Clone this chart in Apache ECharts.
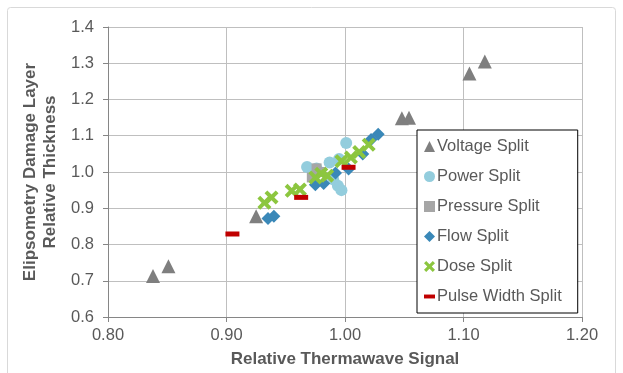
<!DOCTYPE html>
<html>
<head>
<meta charset="utf-8">
<script src="https://cdn.jsdelivr.net/npm/echarts@6/dist/echarts.min.js"></script>
<style>html,body{margin:0;padding:0;background:#fff}#c{width:623px;height:373px}</style>
</head>
<body>
<div id="c"></div>
<script>
const xTicks = [0.80, 0.90, 1.00, 1.10, 1.20];
const yTicks = [0.6, 0.7, 0.8, 0.9, 1.0, 1.1, 1.2, 1.3, 1.4];
const seriesNames = ['Voltage Split', 'Power Split', 'Pressure Split', 'Flow Split', 'Dose Split', 'Pulse Width Split'];
const voltage = [[0.838,0.713],[0.851,0.740],[0.925,0.878],[1.048,1.148],[1.054,1.150],[1.105,1.272],[1.118,1.305]];
const power = [[0.968,1.014],[0.976,1.010],[0.987,1.026],[0.995,1.036],[1.001,1.080],[0.994,0.962],[0.997,0.950],[0.990,0.980]];
const pressure = [[0.976,1.010],[0.972,0.985],[0.979,1.000]];
const flow = [[0.935,0.872],[0.940,0.878],[0.975,0.965],[0.982,0.968],[0.992,0.997],[1.003,1.008],[1.015,1.050],[1.022,1.090],[1.028,1.104]];
const dose = [[0.932,0.915],[0.938,0.930],[0.955,0.948],[0.962,0.952],[0.975,0.985],[0.980,0.995],[0.985,0.990],[0.997,1.030],[1.005,1.040],[1.012,1.055],[1.020,1.075]];
const pulse = [[0.905,0.829],[0.963,0.930],[1.003,1.013]];

const xPath = 'path://M2,0 L5,3 L8,0 L10,2 L7,5 L10,8 L8,10 L5,7 L2,10 L0,8 L3,5 L0,2 Z';
const dashPath = 'path://M0,0 L14,0 L14,5 L0,5 Z';
const styles = [
  {data: voltage, symbol: 'triangle', size: 14, color: '#7f7f7f'},
  {data: power, symbol: 'circle', size: 12, color: '#93cddd'},
  {data: pressure, symbol: 'rect', size: 10, color: '#a6a6a6'},
  {data: flow, symbol: 'diamond', size: 13, color: '#3a88b8'},
  {data: dose, symbol: xPath, size: 14, color: '#8cc63f'},
  {data: pulse, symbol: 'rect', size: [14, 5], color: '#c00000'}
];
const legendIcons = ['triangle', 'circle', 'rect', 'diamond', xPath, dashPath];

const txt = '#595959';
const chart = echarts.init(document.getElementById('c'));
chart.setOption({
  animation: false,
  backgroundColor: '#fff',
  graphic: [{type: 'rect', shape: {x: 7.5, y: 7.5, width: 608, height: 380, r: 3}, style: {fill: 'none', stroke: '#d9d9d9', lineWidth: 1}, z: -1}],
  grid: {left: 108, right: 41, top: 27, bottom: 52},
  xAxis: {
    type: 'value', min: 0.8, max: 1.2, interval: 0.1,
    name: 'Relative Thermawave Signal', nameLocation: 'middle', nameGap: 34,
    nameTextStyle: {fontFamily: 'Liberation Sans', fontSize: 17, fontWeight: 'bold', color: txt},
    axisLine: {show: true, lineStyle: {color: '#868686'}},
    axisTick: {show: true, length: 5, lineStyle: {color: '#868686'}},
    axisLabel: {margin: 10, fontFamily: 'Liberation Sans', fontSize: 16.5, color: txt, formatter: v => v.toFixed(2)},
    splitLine: {show: true, lineStyle: {color: '#bfbfbf'}}
  },
  yAxis: {
    type: 'value', min: 0.6, max: 1.4, interval: 0.1,
    name: 'Elipsometry Damage Layer\nRelative Thickness', nameLocation: 'middle', nameGap: 44, nameRotate: 90,
    nameTextStyle: {fontFamily: 'Liberation Sans', fontSize: 17, fontWeight: 'bold', color: txt, lineHeight: 20},
    axisLine: {show: true, lineStyle: {color: '#868686'}},
    axisTick: {show: true, length: 5, lineStyle: {color: '#868686'}},
    axisLabel: {margin: 14, fontFamily: 'Liberation Sans', fontSize: 16.5, color: txt, formatter: v => v.toFixed(1)},
    splitLine: {show: true, lineStyle: {color: '#bfbfbf'}}
  },
  legend: {
    orient: 'vertical', left: 417, top: 130,
    padding: [8, 16, 8, 7],
    itemWidth: 11, itemHeight: 11, itemGap: 13,
    backgroundColor: '#fff', borderColor: '#000', borderWidth: 1,
    textStyle: {fontFamily: 'Liberation Sans', fontSize: 16.5, color: txt, padding: [0, 0, 0, -3]},
    data: seriesNames.map((n, i) => ({name: n, icon: legendIcons[i]}))
  },
  series: styles.map((s, i) => ({
    type: 'scatter', name: seriesNames[i], data: s.data,
    symbol: s.symbol, symbolSize: s.size,
    itemStyle: {color: s.color, opacity: 1}
  }))
});
</script>
</body>
</html>
